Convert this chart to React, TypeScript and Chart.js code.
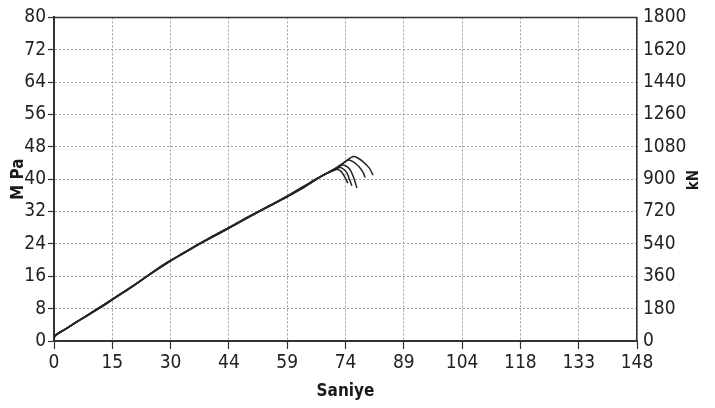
import React, { useEffect, useRef } from 'react';
import { Chart, registerables } from 'chart.js';

Chart.register(...registerables);

// ---- axis data ----
const xTickLabels = ['0', '15', '30', '44', '59', '74', '89', '104', '118', '133', '148'];
const xMax = 148;
const yLeftMax = 80;
const yLeftStep = 8;
const yRightMax = 1800;
const yRightStep = 180;

// ---- specimen curves (time in s, stress in MPa) ----
const s1Time = [0, 1, 2, 4, 6, 8, 10, 13, 16, 20, 24, 28, 32, 36, 40, 44, 48, 52, 56, 59, 62, 65, 68, 70, 72, 74, 75.9, 77, 78.5, 80, 81];
const s1MPa = [1.0, 1.9, 2.4, 3.6, 4.9, 6.0, 7.3, 9.0, 11.0, 13.5, 16.3, 19.0, 21.2, 23.5, 25.6, 27.7, 29.9, 32.0, 34.0, 35.6, 37.3, 39.0, 40.8, 41.9, 43.0, 44.4, 45.6, 45.3, 44.3, 42.8, 41.0];

const s2Time = [0, 1.2, 2.5, 4.5, 7, 9, 12, 15, 18, 22, 26, 30, 34, 38, 42, 46, 50, 54, 58, 61, 64, 67, 69, 71, 73, 74.6, 76, 77.5, 78.5, 79];
const s2MPa = [1.3, 2.0, 2.7, 3.9, 5.4, 6.6, 8.4, 10.3, 12.2, 14.9, 17.6, 20.1, 22.3, 24.6, 26.7, 28.8, 31.0, 33.1, 35.1, 36.8, 38.5, 40.3, 41.3, 42.4, 43.7, 44.7, 44.3, 43.0, 41.6, 40.4];

const s3Time = [0, 0.8, 2, 3.5, 5, 7.5, 11, 14, 17, 21, 25, 29, 33, 37, 41, 45, 49, 53, 57, 60, 63, 66, 69, 71, 72.5, 73.5, 75, 76, 76.9];
const s3MPa = [0.8, 1.7, 2.5, 3.3, 4.3, 5.8, 8.0, 9.8, 11.7, 14.2, 17.0, 19.6, 21.8, 24.1, 26.2, 28.3, 30.4, 32.6, 34.6, 36.2, 37.8, 39.6, 41.4, 42.3, 43.2, 43.5, 42.6, 40.6, 37.8];

const s4Time = [0, 1.5, 3, 5.5, 8.5, 12, 16, 20, 25, 30, 35, 40, 45, 50, 55, 60, 64, 68, 71, 72.3, 73, 74.2, 75, 75.6];
const s4MPa = [1.1, 2.1, 3.0, 4.6, 6.3, 8.5, 11.1, 13.6, 16.9, 20.0, 23.0, 25.8, 28.4, 31.1, 33.6, 36.3, 38.6, 40.9, 42.2, 42.8, 42.8, 41.8, 40.0, 38.4];

const s5Time = [0, 1, 2.8, 5, 9, 13, 18, 23, 28, 33, 38, 43, 48, 53, 58, 63, 67, 70.5, 71.8, 72.8, 73.8, 74.6];
const s5MPa = [1.2, 1.8, 2.9, 4.2, 6.7, 9.2, 12.3, 15.6, 18.8, 21.9, 24.5, 27.1, 29.8, 32.4, 35.0, 37.7, 40.2, 42.0, 42.4, 42.0, 40.6, 39.0];

const specimens = [
  { t: s1Time, v: s1MPa },
  { t: s2Time, v: s2MPa },
  { t: s3Time, v: s3MPa },
  { t: s4Time, v: s4MPa },
  { t: s5Time, v: s5MPa },
];

const TICK_FONT = '"DejaVu Sans Condensed", "Liberation Sans", sans-serif';

const framePlugin = {
  id: 'frameTitles',
  afterDraw(chart: any) {
    const { ctx, chartArea: a } = chart;
    ctx.save();
    ctx.strokeStyle = '#333';
    ctx.lineWidth = 1.5;
    ctx.beginPath();
    ctx.moveTo(a.left, a.top);
    ctx.lineTo(a.right, a.top);
    ctx.stroke();

    ctx.fillStyle = '#1a1a1a';
    ctx.textAlign = 'center';
    ctx.textBaseline = 'middle';
    ctx.font = `bold 17px ${TICK_FONT}`;
    ctx.fillText('Saniye', (a.left + a.right) / 2, 392);

    ctx.save();
    ctx.translate(19, (a.top + a.bottom) / 2);
    ctx.rotate(-Math.PI / 2);
    ctx.fillText('M Pa', 0, 0);
    ctx.restore();

    ctx.save();
    ctx.translate(694, 180);
    ctx.rotate(-Math.PI / 2);
    ctx.font = `bold 15px ${TICK_FONT}`;
    ctx.fillText('kN', 0, 0);
    ctx.restore();
    ctx.restore();
  },
};

export default function App() {
  const canvasRef = useRef<HTMLCanvasElement | null>(null);

  useEffect(() => {
    document.body.style.margin = '0';
    const canvas = canvasRef.current;
    if (!canvas) return;

    const datasets = specimens.map((s, i) => ({
      label: `S${i + 1}`,
      data: s.t.map((t, k) => ({ x: t, y: s.v[k] })),
      borderColor: '#262626',
      borderWidth: 1.5,
      pointRadius: 0,
      tension: 0.25,
      fill: false,
      xAxisID: 'x',
      yAxisID: 'y',
    }));

    const chart = new Chart(canvas, {
      type: 'line',
      data: { datasets },
      plugins: [framePlugin],
      options: {
        animation: false,
        responsive: false,
        maintainAspectRatio: false,
        layout: { padding: { top: 12, left: 0, right: 0, bottom: 0 } },
        plugins: { legend: { display: false }, tooltip: { enabled: false } },
        scales: {
          x: {
            type: 'linear',
            position: 'bottom',
            min: 0,
            max: xMax,
            afterBuildTicks: (scale: any) => {
              scale.ticks = xTickLabels.map((_, i) => ({ value: (i * xMax) / (xTickLabels.length - 1) }));
            },
            afterFit: (scale: any) => {
              scale.height = 67;
            },
            ticks: {
              autoSkip: false,
              maxRotation: 0,
              padding: 3,
              color: '#222',
              font: { family: TICK_FONT, size: 19 },
              callback: (_v: any, i: number) => xTickLabels[i],
            },
            grid: {
              color: '#a0a0a0',
              lineWidth: 1,
              drawTicks: true,
              tickLength: 8,
              tickColor: '#333',
              tickWidth: 1.2,
            },
            border: { display: true, color: '#333', width: 2, dash: [2, 2] },
          },
          y: {
            type: 'linear',
            position: 'left',
            min: 0,
            max: yLeftMax,
            afterFit: (scale: any) => {
              scale.width = 54;
            },
            ticks: {
              stepSize: yLeftStep,
              padding: 2,
              color: '#222',
              font: { family: TICK_FONT, size: 19 },
              callback: (v: any) => String(v),
            },
            grid: {
              color: '#a0a0a0',
              lineWidth: 1,
              drawTicks: true,
              tickLength: 6,
              tickColor: '#333',
              tickWidth: 1.2,
            },
            border: { display: true, color: '#333', width: 2, dash: [2, 2] },
          },
          y2: {
            type: 'linear',
            position: 'right',
            min: 0,
            max: yRightMax,
            afterFit: (scale: any) => {
              scale.width = 78;
            },
            ticks: {
              stepSize: yRightStep,
              padding: 6,
              color: '#222',
              font: { family: TICK_FONT, size: 19 },
              callback: (v: any) => String(v),
            },
            grid: { drawOnChartArea: false, drawTicks: false },
            border: { display: true, color: '#333', width: 1.5 },
          },
        },
      },
    } as any);

    return () => {
      chart.destroy();
    };
  }, []);

  return (
    <div style={{ position: 'fixed', left: 0, top: 0, width: 715, height: 408, background: '#fff' }}>
      <canvas ref={canvasRef} width={715} height={408} style={{ width: 715, height: 408 }} />
    </div>
  );
}
